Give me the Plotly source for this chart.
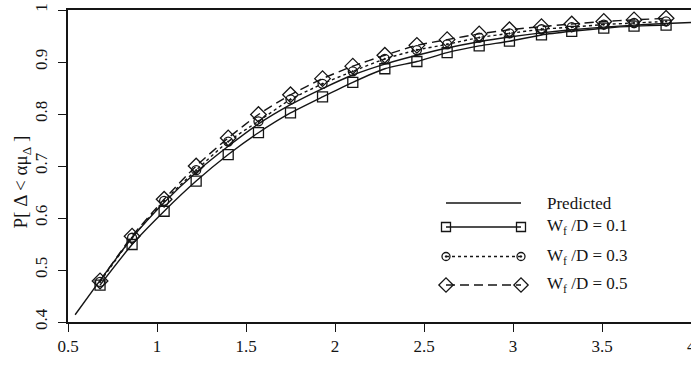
import plotly.graph_objects as go

# ---- data ----
alpha = [0.68, 0.86, 1.04, 1.22, 1.40, 1.57, 1.75, 1.93, 2.10, 2.28,
         2.46, 2.63, 2.81, 2.98, 3.16, 3.33, 3.51, 3.68, 3.86]
wd_01 = [0.471, 0.549, 0.613, 0.671, 0.722, 0.764, 0.802, 0.833, 0.861, 0.887,
         0.901, 0.918, 0.931, 0.940, 0.952, 0.959, 0.965, 0.969, 0.971]
wd_03 = [0.477, 0.562, 0.633, 0.692, 0.747, 0.786, 0.828, 0.858, 0.882, 0.906,
         0.923, 0.934, 0.947, 0.955, 0.963, 0.967, 0.972, 0.975, 0.978]
wd_05 = [0.479, 0.565, 0.636, 0.700, 0.754, 0.799, 0.837, 0.868, 0.892, 0.913,
         0.932, 0.943, 0.954, 0.962, 0.968, 0.973, 0.978, 0.981, 0.984]

pred_x = [0.54, 0.68, 0.86, 1.04, 1.22, 1.40, 1.57, 1.75, 1.93, 2.10, 2.28,
          2.46, 2.63, 2.81, 2.98, 3.16, 3.33, 3.51, 3.68, 3.86, 4.00]
pred_y = [0.414, 0.480, 0.562, 0.630, 0.688, 0.738, 0.781, 0.818, 0.849, 0.875, 0.896,
          0.913, 0.927, 0.939, 0.948, 0.956, 0.962, 0.967, 0.971, 0.974, 0.976]

x_ticks = [0.5, 1, 1.5, 2, 2.5, 3, 3.5]
x_ticktext = ["0.5", "1", "1.5", "2", "2.5", "3", "3.5"]
x_edge_label = "4"
y_ticks = [0.4, 0.5, 0.6, 0.7, 0.8, 0.9, 1.0]
y_ticktext = ["0.4", "0.5", "0.6", "0.7", "0.8", "0.9", "1"]

legend_names = ["Predicted",
                "W<sub>f</sub> /D = 0.1",
                "W<sub>f</sub> /D = 0.3",
                "W<sub>f</sub> /D = 0.5"]
y_title = "P[ Δ &lt; αμ<sub>Δ</sub> ]"

# ---- styles ----
INK = "#151515"
FONT = "Liberation Serif"
styles = [
    dict(dash="solid", symbol=None, size=0),
    dict(dash="solid", symbol="square-open", size=10),
    dict(dash="dot", symbol="circle-open-dot", size=9),
    dict(dash="9px,5px", symbol="diamond-open", size=12),
]

fig = go.Figure()

series = [(pred_x, pred_y), (alpha, wd_01), (alpha, wd_03), (alpha, wd_05)]
for (xs, ys), st, name in zip(series, styles, legend_names):
    mode = "lines" if st["symbol"] is None else "lines+markers"
    tr = dict(x=xs, y=ys, mode=mode, name=name, showlegend=False,
              line=dict(color=INK, width=1.4, dash=st["dash"], shape="spline", smoothing=0.6))
    if st["symbol"]:
        tr["marker"] = dict(symbol=st["symbol"], size=st["size"], color=INK,
                            line=dict(color=INK, width=1.3))
    fig.add_trace(go.Scatter(**tr))

# ---- hand-drawn legend (pixel overlay axes) ----
leg_rows_px = [203, 227, 256.5, 285]
leg_x0, leg_x1, leg_text_x = 446, 521, 545
for row_y, st, name in zip(leg_rows_px, styles, legend_names):
    mode = "lines" if st["symbol"] is None else "lines+markers"
    tr = dict(x=[leg_x0, leg_x1], y=[row_y, row_y], mode=mode, showlegend=False,
              xaxis="x2", yaxis="y2", hoverinfo="skip",
              line=dict(color=INK, width=1.4, dash=st["dash"]))
    if st["symbol"]:
        tr["marker"] = dict(symbol=st["symbol"], size=st["size"] - 1, color=INK,
                            line=dict(color=INK, width=1.3))
    fig.add_trace(go.Scatter(**tr))
    fig.add_annotation(x=leg_text_x, y=row_y, xref="x2", yref="y2", text=name,
                       showarrow=False, xanchor="left", yanchor="middle",
                       font=dict(family=FONT, size=17, color=INK))

# y-axis title (paper coordinates, left of the plot area)
fig.add_annotation(x=-0.074, y=0.45, xref="paper", yref="paper",
                   text=y_title, textangle=-90,
                   showarrow=False, xanchor="center", yanchor="middle",
                   font=dict(family=FONT, size=19, color=INK))

# last x tick label sits on the page edge (cut off in the reference too)
fig.add_annotation(x=1.0, y=0, xref="paper", yref="paper", yshift=-13,
                   text=x_edge_label, showarrow=False, xanchor="center", yanchor="top",
                   font=dict(family=FONT, size=17, color=INK))

fig.update_layout(
    width=691, height=369,
    margin=dict(l=68, r=0, t=10, b=47),
    paper_bgcolor="white", plot_bgcolor="white",
    font=dict(family=FONT, size=17, color=INK),
    xaxis=dict(range=[0.5, 4], tickvals=x_ticks, ticktext=x_ticktext,
               showline=True, linecolor=INK, linewidth=1.6, mirror=True,
               ticks="outside", ticklen=8, tickwidth=1.3, tickcolor=INK,
               tickfont=dict(family=FONT, size=17, color=INK),
               showgrid=False, zeroline=False, fixedrange=True),
    yaxis=dict(range=[0.4, 1.0], tickvals=y_ticks, ticktext=y_ticktext,
               showline=True, linecolor=INK, linewidth=1.6,
               ticks="outside", ticklen=8, tickwidth=1.3, tickcolor=INK,
               tickfont=dict(family=FONT, size=17, color=INK),
               ticklabelstandoff=4,
               tickangle=-90, showgrid=False, zeroline=False, fixedrange=True),
    # overlay axes in pixel units for legend placement
    xaxis2=dict(range=[68, 691], overlaying="x", visible=False, fixedrange=True),
    yaxis2=dict(range=[322, 10], overlaying="y", visible=False, fixedrange=True),
)

fig.write_html("out.html")
